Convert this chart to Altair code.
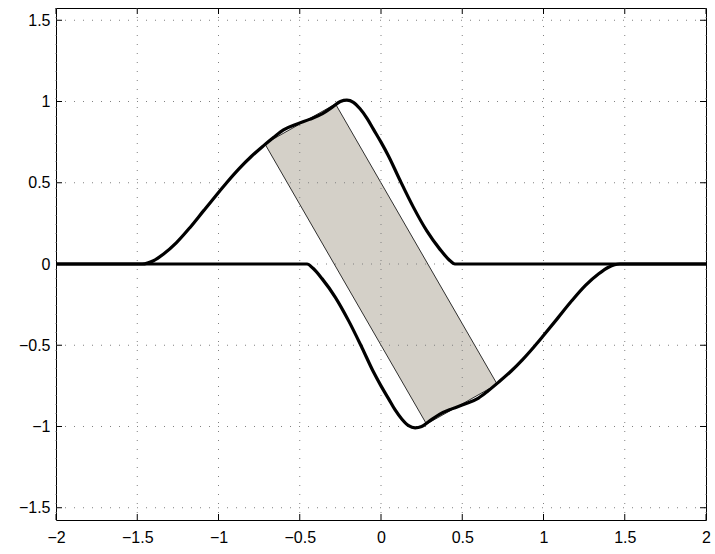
import altair as alt
import pandas as pd

# upper curve
up_x = [-2.0, -1.47, -1.40, -1.34, -1.26, -1.175, -1.09, -1.0, -0.95, -0.87,
        -0.80, -0.724, -0.66, -0.60, -0.52, -0.44, -0.36, -0.30, -0.25, -0.21,
        -0.17, -0.129, -0.085, -0.047, 0.0, 0.046, 0.117, 0.199, 0.281, 0.363,
        0.42, 0.455, 2.0]
up_y = [0.0, 0.0, 0.02, 0.06, 0.13, 0.225, 0.33, 0.44, 0.50, 0.59,
        0.66, 0.727, 0.78, 0.825, 0.86, 0.89, 0.925, 0.965, 1.0, 1.008,
        0.995, 0.955, 0.895, 0.83, 0.75, 0.665, 0.515, 0.35, 0.205, 0.09,
        0.025, 0.0, 0.0]
# lower curve
lo_x = [-2.0, -0.455, -0.42, -0.363, -0.281, -0.199, -0.117, -0.046, 0.0,
        0.047, 0.085, 0.129, 0.17, 0.21, 0.25, 0.30, 0.36, 0.44, 0.52, 0.60,
        0.66, 0.724, 0.80, 0.87, 0.95, 1.0, 1.09, 1.175, 1.26, 1.34, 1.40,
        1.47, 2.0]
lo_y = [0.0, 0.0, -0.025, -0.09, -0.205, -0.35, -0.515, -0.665, -0.75,
        -0.83, -0.895, -0.955, -0.995, -1.008, -1.0, -0.965, -0.925, -0.89, -0.86, -0.825,
        -0.78, -0.727, -0.66, -0.59, -0.50, -0.44, -0.33, -0.225, -0.13, -0.06, -0.02,
        0.0, 0.0]
# shaded rectangle corners
rect_x = [-0.715, -0.28, 0.715, 0.28, -0.715]
rect_y = [0.74, 0.985, -0.74, -0.985, 0.74]

x_ticks = [-2, -1.5, -1, -0.5, 0, 0.5, 1, 1.5, 2]
y_ticks = [-1.5, -1, -0.5, 0, 0.5, 1, 1.5]

W, H = 650, 512
XD = [-2, 2]
YD = [-1.5754, 1.5754]

curves = pd.concat([
    pd.DataFrame({"x": up_x, "y": up_y, "s": "upper", "i": range(len(up_x))}),
    pd.DataFrame({"x": lo_x, "y": lo_y, "s": "lower", "i": range(len(lo_x))}),
])
rect = pd.DataFrame({"x": rect_x, "y": rect_y, "i": range(len(rect_x))})
xt = pd.DataFrame({"v": x_ticks})
yt = pd.DataFrame({"v": y_ticks})

xs = alt.Scale(domain=XD, nice=False, zero=False)
ys = alt.Scale(domain=YD, nice=False, zero=False)

x_axis = alt.Axis(values=x_ticks, grid=False, domain=False, ticks=False, format="~g",
                  labelFont="Liberation Sans", labelFontSize=16, labelColor="black",
                  labelPadding=9, title=None, labelFlush=False)
y_axis = alt.Axis(values=y_ticks, grid=False, domain=False, ticks=False, format="~g",
                  labelFont="Liberation Sans", labelFontSize=16, labelColor="black",
                  labelPadding=6, title=None, labelFlush=False)

poly = alt.Chart(rect).mark_line(fill="#d4d0c8", stroke="black", strokeWidth=0.8).encode(
    x=alt.X("x:Q", scale=xs, axis=x_axis),
    y=alt.Y("y:Q", scale=ys, axis=y_axis),
    order="i:Q",
)

gridx = alt.Chart(xt).mark_rule(color="#808080", strokeWidth=1, strokeDash=[1, 8]).encode(
    x=alt.X("v:Q", scale=xs), y=alt.value(0), y2=alt.value(H))
gridy = alt.Chart(yt).mark_rule(color="#808080", strokeWidth=1, strokeDash=[1, 8]).encode(
    y=alt.Y("v:Q", scale=ys), x=alt.value(0), x2=alt.value(W))

lines = alt.Chart(curves).mark_line(color="black", strokeWidth=3.2, interpolate="monotone").encode(
    x=alt.X("x:Q", scale=xs),
    y=alt.Y("y:Q", scale=ys),
    detail="s:N",
    order="i:Q",
)

TL = 6
tb = alt.Chart(xt).mark_rule(color="black").encode(x=alt.X("v:Q", scale=xs), y=alt.value(H), y2=alt.value(H - TL))
tt = alt.Chart(xt).mark_rule(color="black").encode(x=alt.X("v:Q", scale=xs), y=alt.value(0), y2=alt.value(TL))
tl = alt.Chart(yt).mark_rule(color="black").encode(y=alt.Y("v:Q", scale=ys), x=alt.value(0), x2=alt.value(TL))
tr = alt.Chart(yt).mark_rule(color="black").encode(y=alt.Y("v:Q", scale=ys), x=alt.value(W), x2=alt.value(W - TL))

chart = alt.layer(poly, gridx, gridy, lines, tb, tt, tl, tr).properties(
    width=W, height=H,
    autosize=alt.AutoSizeParams(type="none"),
    padding={"left": 56, "top": 8, "right": 9, "bottom": 34},
    background="white",
).configure_view(stroke="black", strokeWidth=1)

chart.save("out.html", embed_options={"renderer": "svg", "actions": False})
